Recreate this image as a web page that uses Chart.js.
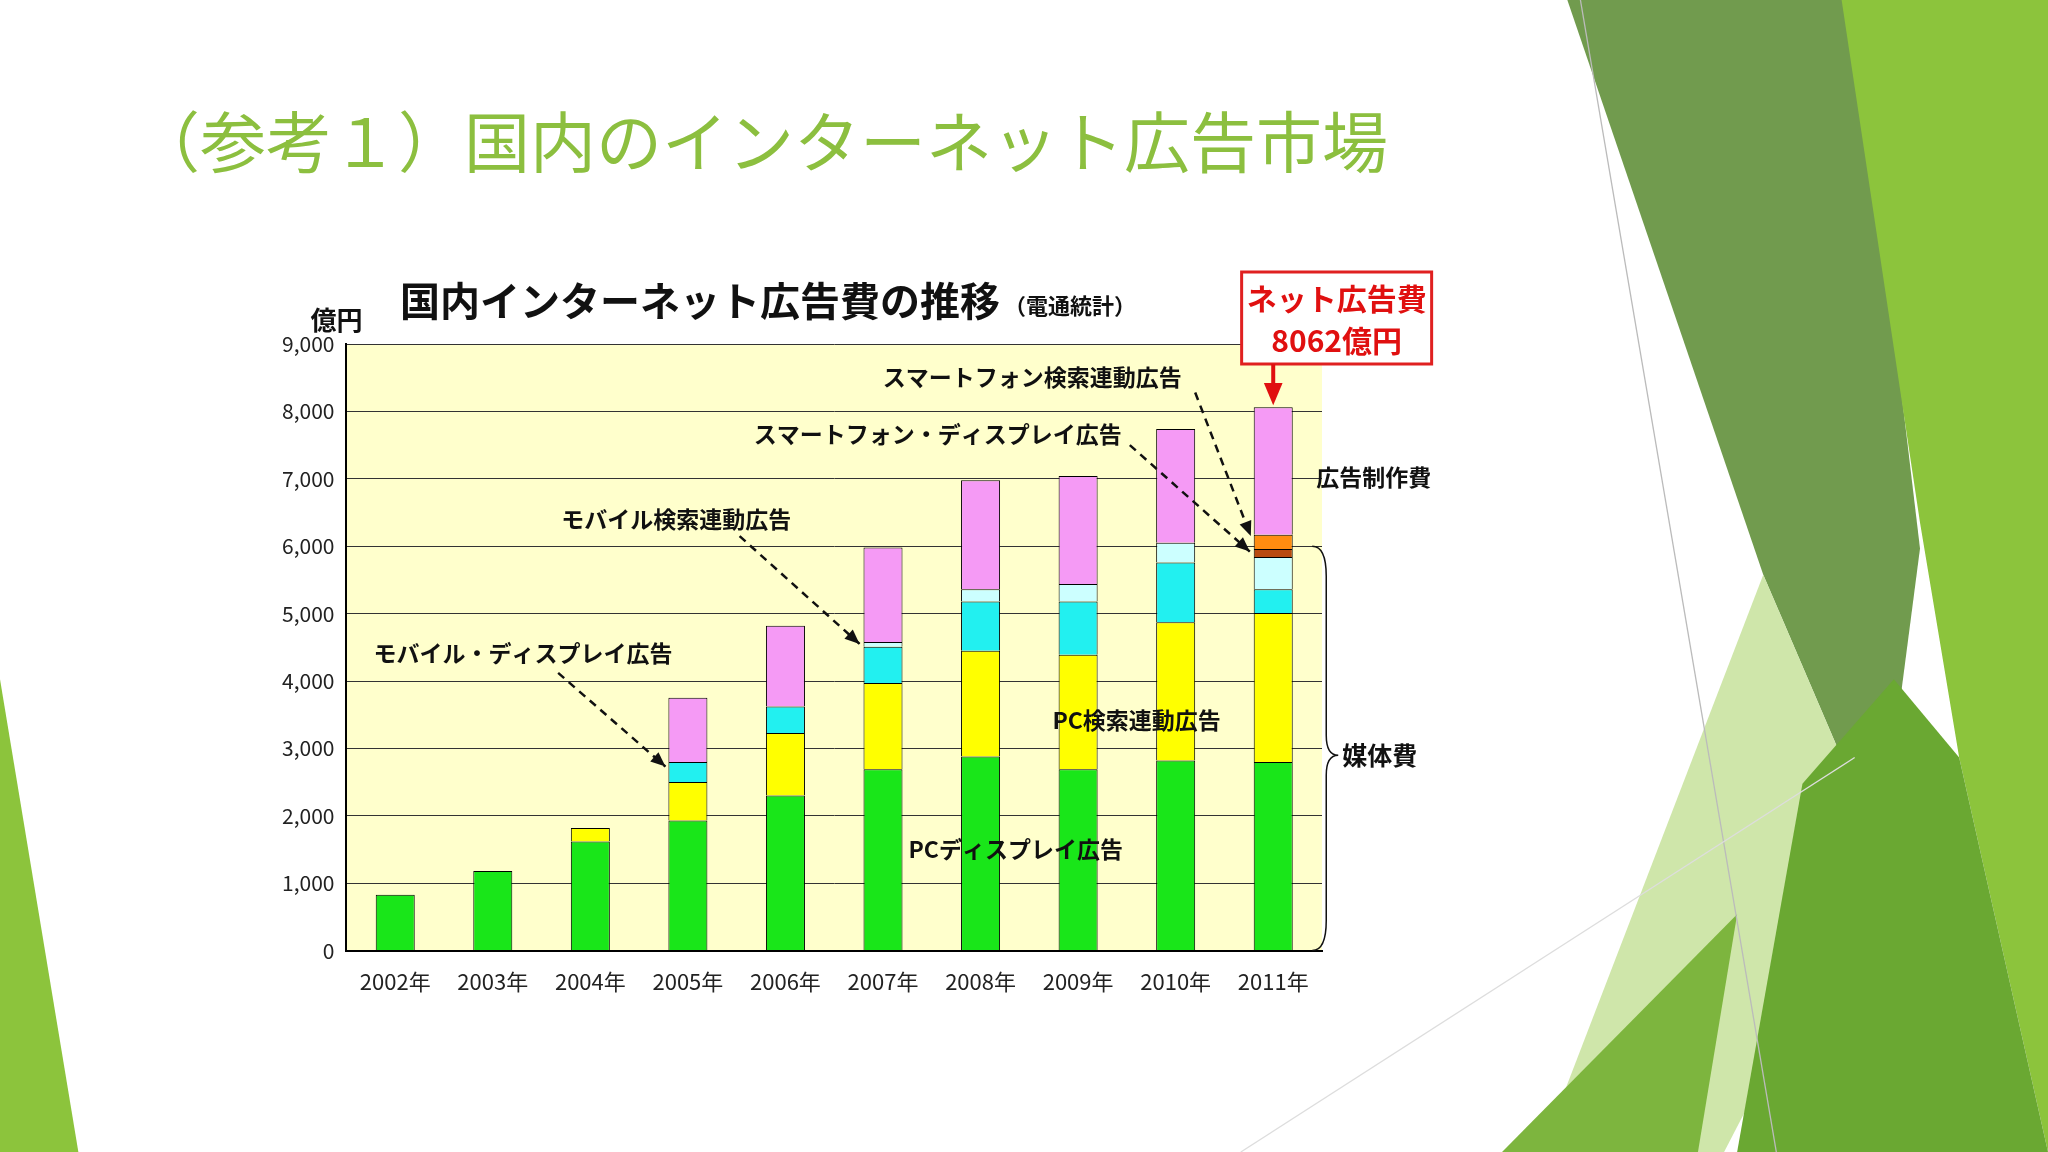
<!DOCTYPE html>
<html>
<head>
<meta charset="utf-8">
<script src="https://cdn.jsdelivr.net/npm/chart.js@4"></script>
<style>
  html, body { margin: 0; padding: 0; background: #fff; }
  #page { position: relative; width: 2048px; height: 1152px; overflow: hidden; background: #fff; }
  #deco { position: absolute; left: 0; top: 0; width: 2048px; height: 1152px; }
  #title { position: absolute; left: 134px; top: 90px; font-family: "Noto Sans CJK JP", sans-serif;
           font-size: 66px; color: #8cbf3f; white-space: nowrap; }
  #frame { position: absolute; left: 260px; top: 225px; width: 1250px; height: 790px; }
  #chart { position: absolute; left: 0; top: 0; }
</style>
</head>
<body>
<div id="page">
  <svg id="deco" viewBox="0 0 1568 882" preserveAspectRatio="none">
    <polygon points="1200,0 1420,0 1470,420 1440,650 1350,440" fill="#719b4e"/>
    <polygon points="1410,0 1568,0 1568,882 1500,580 1470,400" fill="#8cc43c"/>
    <polygon points="1350,440 1440,650 1320,882 1180,882" fill="#cfe6aa"/>
    <polygon points="1380,600 1450,520 1500,580 1568,882 1330,882" fill="#6aa832"/>
    <polygon points="1150,882 1330,700 1300,882" fill="#7db53e"/>
    <polygon points="0,520 60,882 0,882" fill="#8cc43c"/>
    <line x1="1210" y1="0" x2="1360" y2="882" stroke="#bbb" stroke-width="1"/>
    <line x1="950" y1="882" x2="1420" y2="580" stroke="#ddd" stroke-width="1"/>
  </svg>
  <div id="title">（参考１）国内のインターネット広告市場</div>
  <div id="frame"><canvas id="chart" width="1250" height="790"></canvas></div>
</div>
<script>
// ===== データ（億円） =====
const years = ['2002年', '2003年', '2004年', '2005年', '2006年', '2007年', '2008年', '2009年', '2010年', '2011年'];
const pcDisplay     = [830, 1180, 1620, 1930, 2300, 2690, 2880, 2690, 2820, 2800];
const pcSearch      = [0, 0, 200, 570, 930, 1280, 1570, 1700, 2050, 2210];
const mobileDisplay = [0, 0, 0, 300, 390, 540, 730, 790, 890, 350];
const mobileSearch  = [0, 0, 0, 0, 0, 70, 180, 260, 290, 480];
const spDisplay     = [0, 0, 0, 0, 0, 0, 0, 0, 0, 120];
const spSearch      = [0, 0, 0, 0, 0, 0, 0, 0, 0, 210];
const production    = [0, 0, 0, 950, 1200, 1400, 1620, 1600, 1690, 1890];
const yTicks = [0, 1000, 2000, 3000, 4000, 5000, 6000, 7000, 8000, 9000];

const jp = '"Noto Sans CJK JP", sans-serif';

// ===== 注記（x: カテゴリ位置, y: 値） =====
const notes = [
  { text: 'スマートフォン検索連動広告', x: 6.53, y: 8510, from: [8.2, 8280], to: [8.77, 6150] },
  { text: 'スマートフォン・ディスプレイ広告', x: 5.56, y: 7660, from: [7.53, 7500], to: [8.76, 5920] },
  { text: 'モバイル検索連動広告', x: 2.88, y: 6400, from: [3.53, 6150], to: [4.76, 4550] },
  { text: 'モバイル・ディスプレイ広告', x: 1.31, y: 4410, from: [1.67, 4120], to: [2.77, 2730] },
  { text: 'PC検索連動広告', x: 7.6, y: 3420 },
  { text: 'PCディスプレイ広告', x: 6.36, y: 1510 },
  { text: '広告制作費', x: 10.03, y: 7020 }
];

function arrowHead(ctx, x1, y1, x2, y2, size) {
  const a = Math.atan2(y2 - y1, x2 - x1);
  ctx.beginPath();
  ctx.moveTo(x2, y2);
  ctx.lineTo(x2 - size * Math.cos(a - 0.4), y2 - size * Math.sin(a - 0.4));
  ctx.lineTo(x2 - size * Math.cos(a + 0.4), y2 - size * Math.sin(a + 0.4));
  ctx.closePath();
  ctx.fill();
}

const plotBg = {
  id: 'plotBg',
  beforeDraw(chart) {
    const { ctx, chartArea: a } = chart;
    ctx.save();
    ctx.fillStyle = '#ffffcc';
    ctx.fillRect(a.left, a.top, a.right - a.left, a.bottom - a.top);
    ctx.restore();
  }
};

const notesPlugin = {
  id: 'notes',
  afterDatasetsDraw(chart) {
    const { ctx, scales: { x, y }, chartArea: a } = chart;
    const px = v => x.getPixelForValue(v);
    const py = v => y.getPixelForValue(v);
    ctx.save();
    ctx.fillStyle = '#111';
    ctx.strokeStyle = '#111';
    ctx.textAlign = 'center';
    ctx.textBaseline = 'middle';

    notes.forEach(n => {
      ctx.font = 'bold 23px ' + jp;
      ctx.fillText(n.text, px(n.x), py(n.y));
      if (n.from) {
        const x1 = px(n.from[0]), y1 = py(n.from[1]), x2 = px(n.to[0]), y2 = py(n.to[1]);
        ctx.lineWidth = 2.5;
        ctx.setLineDash([8, 6]);
        ctx.beginPath(); ctx.moveTo(x1, y1); ctx.lineTo(x2, y2); ctx.stroke();
        ctx.setLineDash([]);
        arrowHead(ctx, x1, y1, x2, y2, 16);
      }
    });

    // 媒体費の括弧
    const bx = px(9.4), top = py(6000), bot = py(0), mid = py(2900);
    ctx.lineWidth = 1.5;
    ctx.beginPath();
    ctx.moveTo(bx, top);
    ctx.quadraticCurveTo(bx + 14, top, bx + 14, top + 30);
    ctx.lineTo(bx + 14, mid - 20);
    ctx.quadraticCurveTo(bx + 14, mid, bx + 26, mid);
    ctx.quadraticCurveTo(bx + 14, mid, bx + 14, mid + 20);
    ctx.lineTo(bx + 14, bot - 30);
    ctx.quadraticCurveTo(bx + 14, bot, bx, bot);
    ctx.stroke();
    ctx.font = 'bold 25px ' + jp;
    ctx.textAlign = 'left';
    ctx.fillText('媒体費', bx + 30, mid);

    // 見出し
    ctx.textAlign = 'left';
    ctx.textBaseline = 'alphabetic';
    ctx.font = 'bold 40px ' + jp;
    ctx.fillText('国内インターネット広告費の推移', px(0.05), a.top - 28);
    const w = ctx.measureText('国内インターネット広告費の推移').width;
    ctx.font = 'bold 22px ' + jp;
    ctx.fillText('（電通統計）', px(0.05) + w + 4, a.top - 30);
    ctx.font = 'bold 26px ' + jp;
    ctx.textAlign = 'center';
    ctx.fillText('億円', a.left - 10, a.top - 14);

    // ネット広告費ボックス
    const cx = px(9.65), boxTop = a.top - 72;
    ctx.fillStyle = '#fff';
    ctx.fillRect(cx - 95, boxTop, 190, 92);
    ctx.strokeStyle = '#e02020';
    ctx.lineWidth = 3;
    ctx.strokeRect(cx - 95, boxTop, 190, 92);
    ctx.fillStyle = '#e01010';
    ctx.font = 'bold 30px ' + jp;
    ctx.fillText('ネット広告費', cx, boxTop + 38);
    ctx.fillText('8062億円', cx, boxTop + 80);
    ctx.strokeStyle = '#e01010';
    ctx.lineWidth = 4;
    const ax = px(9), ay2 = py(8062) - 2;
    ctx.beginPath(); ctx.moveTo(ax, boxTop + 92); ctx.lineTo(ax, ay2 - 12); ctx.stroke();
    arrowHead(ctx, ax, boxTop + 92, ax, ay2, 24);
    ctx.restore();
  }
};

function ds(label, data, color) {
  return { label, data, backgroundColor: color, borderColor: '#000', borderWidth: 1 };
}

new Chart(document.getElementById('chart'), {
  type: 'bar',
  data: {
    labels: years,
    datasets: [
      ds('PCディスプレイ広告', pcDisplay, '#19e619'),
      ds('PC検索連動広告', pcSearch, '#ffff00'),
      ds('モバイル・ディスプレイ広告', mobileDisplay, '#22f0f0'),
      ds('モバイル検索連動広告', mobileSearch, '#ccffff'),
      ds('スマートフォン・ディスプレイ広告', spDisplay, '#b84a10'),
      ds('スマートフォン検索連動広告', spSearch, '#ff8c10'),
      ds('広告制作費', production, '#f59af5')
    ]
  },
  options: {
    responsive: false,
    animation: false,
    datasets: { bar: { categoryPercentage: 1, barPercentage: 0.4 } },
    layout: { padding: { left: 10, top: 119, right: 188, bottom: 10 } },
    plugins: { legend: { display: false }, tooltip: { enabled: false } },
    scales: {
      x: {
        stacked: true,
        grid: { display: false },
        border: { color: '#000', width: 2 },
        ticks: { color: '#222', font: { family: jp, size: 22 }, padding: 10 }
      },
      y: {
        stacked: true,
        min: 0, max: 9000,
        afterBuildTicks: axis => { axis.ticks = yTicks.map(v => ({ value: v })); },
        grid: { color: '#333', lineWidth: 1, drawTicks: false },
        border: { color: '#000', width: 2 },
        ticks: { color: '#222', font: { family: jp, size: 21 }, padding: 12,
                 callback: v => v.toLocaleString('en-US') }
      }
    }
  },
  plugins: [plotBg, notesPlugin]
});
</script>
</body>
</html>
